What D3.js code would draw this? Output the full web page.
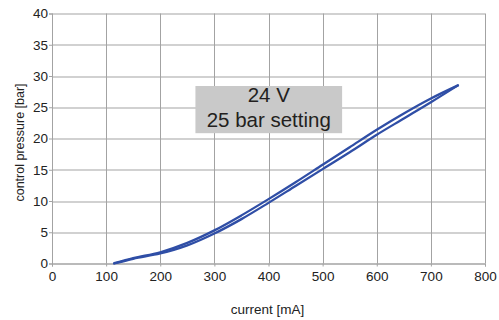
<!DOCTYPE html>
<html>
<head>
<meta charset="utf-8">
<script src="https://cdn.jsdelivr.net/npm/d3@7"></script>
<style>
  body { margin: 0; background: #fff; }
  text { font-family: "Liberation Sans", Arial, sans-serif; }
</style>
</head>
<body>
<div class="chart"></div>
<script>
// data
const current = [115, 150, 200, 250, 300, 350, 400, 450, 500, 550, 600, 650, 700, 750];
const pressureUp = [0.05, 0.85, 1.8, 3.3, 5.3, 7.7, 10.3, 13.0, 15.8, 18.6, 21.4, 24.0, 26.4, 28.5];
const pressureDown = [0, 0.75, 1.6, 2.9, 4.8, 7.1, 9.7, 12.4, 15.1, 17.8, 20.6, 23.2, 25.8, 28.5];
const xTicks = [0, 100, 200, 300, 400, 500, 600, 700, 800];
const yTicks = [0, 5, 10, 15, 20, 25, 30, 35, 40];
const noteLines = ["24 V", "25 bar setting"];

const width = 499, height = 320;
const margin = { top: 13.5, right: 14, bottom: 56.5, left: 52 };
const w = width - margin.left - margin.right;
const h = height - margin.top - margin.bottom;

const gridColor = "#a3a3a3";
const lineColor = "#2f4ea6";

const svg = d3.select(".chart")
    .append("svg")
    .attr("width", width)
    .attr("height", height)
    .style("background", "#fff");

const g = svg.append("g")
    .attr("transform", "translate(" + margin.left + "," + margin.top + ")");

const x = d3.scaleLinear().domain([0, 800]).range([0, w]);
const y = d3.scaleLinear().domain([0, 40]).range([h, 0]);

// grid
g.append("g").selectAll("line")
    .data(yTicks)
    .enter().append("line")
    .attr("x1", 0).attr("x2", w)
    .attr("y1", d => Math.round(y(d)) + 0.5)
    .attr("y2", d => Math.round(y(d)) + 0.5)
    .attr("stroke", gridColor)
    .attr("stroke-width", 1);

g.append("g").selectAll("line")
    .data(xTicks)
    .enter().append("line")
    .attr("y1", 0).attr("y2", h)
    .attr("x1", d => Math.round(x(d)) + 0.5)
    .attr("x2", d => Math.round(x(d)) + 0.5)
    .attr("stroke", gridColor)
    .attr("stroke-width", 1);

// axes
const xAxis = g.append("g")
    .attr("transform", "translate(0," + h + ")")
    .call(d3.axisBottom(x).tickValues(xTicks).tickSize(3).tickPadding(5));
const yAxis = g.append("g")
    .call(d3.axisLeft(y).tickValues(yTicks).tickSize(3).tickPadding(1));

[xAxis, yAxis].forEach(a => {
    a.select(".domain").attr("stroke", gridColor);
    a.selectAll(".tick line").attr("stroke", gridColor);
    a.selectAll(".tick text")
        .attr("fill", "#222")
        .style("font-size", "13.5px")
        .style("font-family", "Liberation Sans, Arial, sans-serif");
});

// annotation box
const box = g.append("g");
box.append("rect")
    .attr("x", x(265))
    .attr("y", y(28.4))
    .attr("width", x(536) - x(265))
    .attr("height", y(20.85) - y(28.4))
    .attr("fill", "#c9c9c9");
box.selectAll("text")
    .data(noteLines)
    .enter().append("text")
    .attr("x", (x(265) + x(536)) / 2)
    .attr("y", (d, i) => y(25.9) + i * 25)
    .attr("text-anchor", "middle")
    .attr("fill", "#231f20")
    .style("font-size", "20.5px")
    .text(d => d);

// curves
const line = d3.line()
    .x((d, i) => x(current[i]))
    .y(d => y(d))
    .curve(d3.curveMonotoneX);

[pressureUp, pressureDown].forEach(series => {
    g.append("path")
        .datum(series)
        .attr("fill", "none")
        .attr("stroke", lineColor)
        .attr("stroke-width", 2.3)
        .attr("stroke-linecap", "round")
        .attr("d", line);
});

// axis titles
svg.append("text")
    .attr("x", margin.left + w / 2 - 1)
    .attr("y", 314)
    .attr("text-anchor", "middle")
    .attr("fill", "#222")
    .style("font-size", "13.5px")
    .text("current [mA]");

svg.append("text")
    .attr("transform", "translate(24," + (margin.top + h / 2 + 4) + ") rotate(-90)")
    .attr("text-anchor", "middle")
    .attr("fill", "#222")
    .style("font-size", "12.5px")
    .text("control pressure [bar]");
</script>
</body>
</html>
